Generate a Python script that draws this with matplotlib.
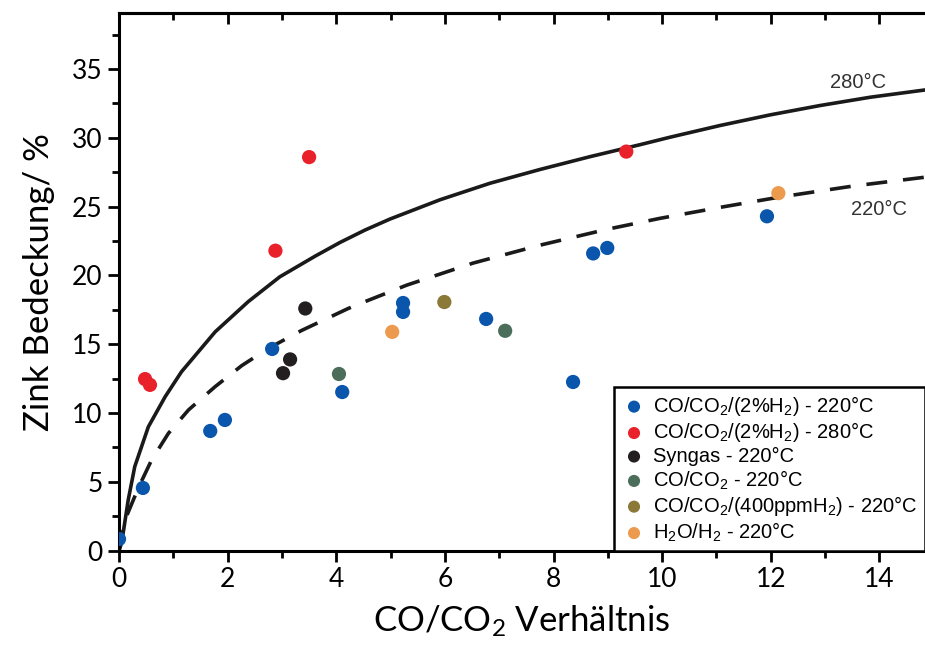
import matplotlib.pyplot as plt
import numpy as np

plt.rcParams['mathtext.default'] = 'regular'

# Messpunkte je Gasatmosphäre (CO/CO2-Verhältnis, Zinkbedeckung in %)
h2_220_x = [0.0, 0.44, 1.68, 1.95, 2.82, 4.11, 5.23, 5.23, 6.76, 8.36, 8.73, 8.99, 11.93]
h2_220_y = [0.85, 4.56, 8.7, 9.5, 14.66, 11.53, 17.35, 18.0, 16.84, 12.26, 21.6, 22.0, 24.3]
h2_280_x = [0.48, 0.57, 2.88, 3.5, 9.34]
h2_280_y = [12.47, 12.05, 21.8, 28.6, 29.0]
syngas_x = [3.02, 3.15, 3.43]
syngas_y = [12.9, 13.9, 17.6]
coco2_x = [4.05, 7.11]
coco2_y = [12.84, 15.98]
ppm_x = [5.99]
ppm_y = [18.07]
h2o_x = [5.03, 12.14]
h2o_y = [15.9, 25.98]

# Modellkurven
curve280_x = [0.0, 0.05, 0.17, 0.29, 0.54, 0.85, 1.15, 1.77, 2.38, 2.96, 3.61, 4.07,
              4.53, 4.99, 5.91, 6.83, 7.75, 8.67, 9.59, 10.15, 11.07, 11.99, 12.91,
              13.83, 14.84]
curve280_y = [0.0, 0.6, 3.69, 6.11, 9.0, 11.19, 13.0, 15.9, 18.1, 19.9, 21.4, 22.4,
              23.3, 24.1, 25.5, 26.7, 27.7, 28.63, 29.5, 30.05, 30.9, 31.67, 32.35,
              32.95, 33.48]
curve220_x = [0.0, 0.11, 0.36, 0.6, 0.91, 1.28, 1.77, 2.26, 2.75, 3.36, 4.22, 4.53,
              5.3, 6.52, 7.75, 8.98, 9.96, 11.07, 12.17, 13.52, 14.84]
curve220_y = [0.0, 2.23, 4.6, 6.59, 8.53, 10.23, 11.92, 13.45, 14.7, 16.0, 17.6, 18.1,
              19.3, 20.9, 22.2, 23.35, 24.15, 24.95, 25.7, 26.5, 27.14]

series = [
    (h2_220_x, h2_220_y, '#0a56ac', 'CO/CO$_2$/(2%H$_2$) - 220°C'),
    (h2_280_x, h2_280_y, '#e8212b', 'CO/CO$_2$/(2%H$_2$) - 280°C'),
    (syngas_x, syngas_y, '#231f20', 'Syngas - 220°C'),
    (coco2_x, coco2_y, '#4b6d59', 'CO/CO$_2$ - 220°C'),
    (ppm_x, ppm_y, '#8a7937', 'CO/CO$_2$/(400ppmH$_2$) - 220°C'),
    (h2o_x, h2o_y, '#eb9a4e', 'H$_2$O/H$_2$ - 220°C'),
]

fig = plt.figure(figsize=(9.25, 6.5), dpi=100)
ax = fig.add_axes([119 / 925, 1 - 550.7 / 650, 1 - 119 / 925, (550.7 - 13.3) / 650])

ax.plot(curve280_x, curve280_y, color='#1a1a1a', lw=2.6, zorder=2)
ax.plot(curve220_x, curve220_y, color='#1a1a1a', lw=2.6, ls=(0, (5.8, 4.4)), zorder=2)

for xs, ys, c, lab in series:
    ax.scatter(xs, ys, s=105, color=c, edgecolors='none', label=lab, zorder=3)

ax.text(13.6, 34.0, '280°C', fontsize=14.5, color='#333333', ha='center', va='center',
        family='Liberation Sans')
ax.text(14.0, 24.8, '220°C', fontsize=14.5, color='#333333', ha='center', va='center',
        family='Liberation Sans')

ax.set_xlim(0, 14.84)
ax.set_ylim(0, 39.05)
ax.set_xticks(np.arange(0, 15, 2))
ax.set_xticks(np.arange(1, 15, 2), minor=True)
ax.set_yticks(np.arange(0, 36, 5))
ax.set_yticks(np.arange(2.5, 39, 5), minor=True)

for sp in ['left', 'bottom', 'top']:
    ax.spines[sp].set_linewidth(2.2)
ax.spines['right'].set_visible(False)

ax.tick_params(axis='both', which='major', width=2, length=8, labelsize=19, pad=4)
ax.tick_params(axis='both', which='minor', width=2, length=5)
ax.tick_params(axis='both', which='both', direction='out', top=False, right=False)
for lab in ax.get_xticklabels() + ax.get_yticklabels():
    lab.set_family('Lato')

# Ticks an der oberen Achse zeigen nach innen, ohne Beschriftung
sec = ax.secondary_xaxis('top')
sec.set_xticks(np.arange(0, 15, 2))
sec.set_xticks(np.arange(1, 15, 2), minor=True)
sec.tick_params(which='major', direction='in', width=2, length=8, labeltop=False)
sec.tick_params(which='minor', direction='in', width=2, length=5)
sec.spines['top'].set_linewidth(2.2)

ax.set_xlabel('CO/CO$_2$ Verhältnis', fontsize=25, family='Lato', labelpad=8)
ax.set_ylabel('Zink Bedeckung/ %', fontsize=25, family='Lato', labelpad=12)

leg = ax.legend(loc='lower left', bbox_to_anchor=(0.614, 0.0), borderaxespad=0,
                frameon=True, fancybox=False, framealpha=1, edgecolor='black',
                prop={'family': 'Liberation Sans', 'size': 14.5},
                handletextpad=0.3, labelspacing=0.12, borderpad=0.35,
                markerscale=0.85, handlelength=1.3)
leg.get_frame().set_linewidth(1.8)

fig.savefig('out.png', dpi=100)
